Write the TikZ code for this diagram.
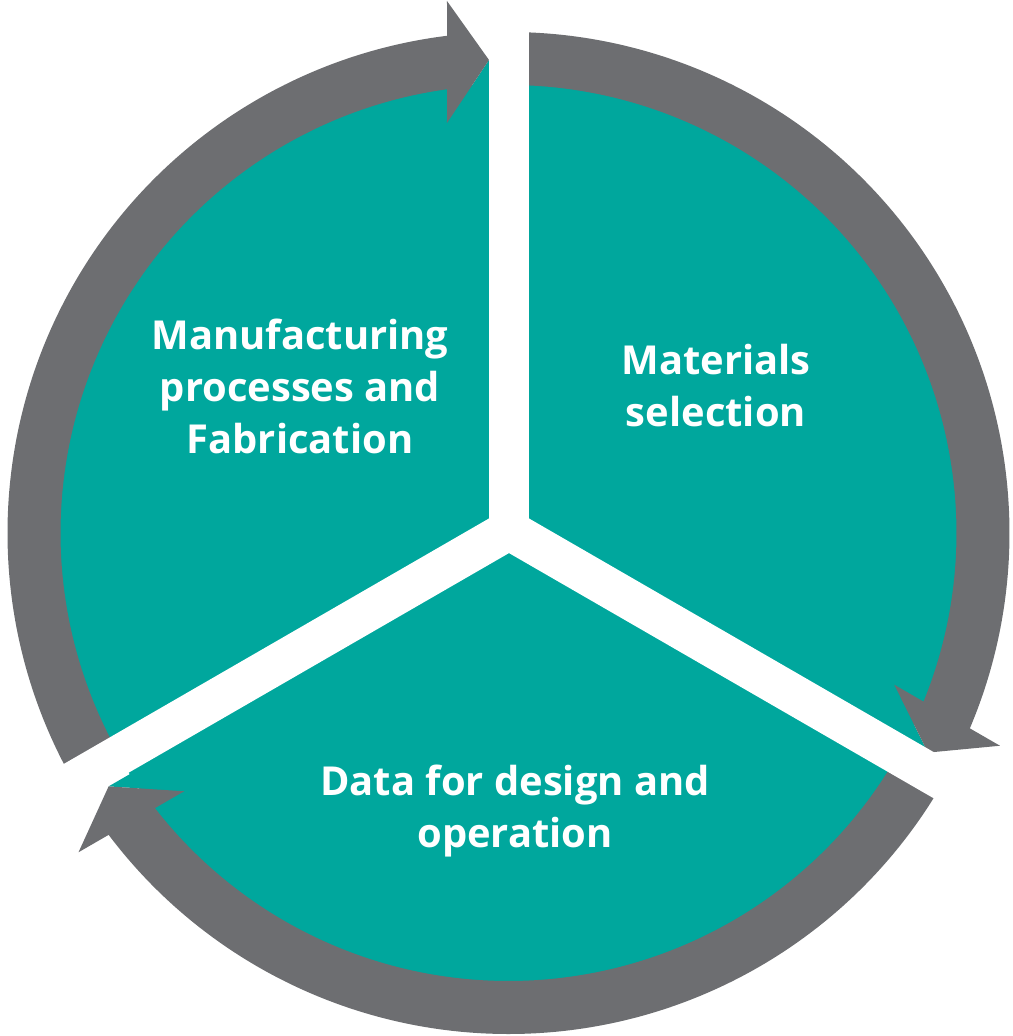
\documentclass[tikz,border=0pt]{standalone}
\usepackage{fontspec}
\setmainfont{Open Sans}
\usepackage{tikz}
\definecolor{sector}{RGB}{0,167,157}
\definecolor{ring}{RGB}{109,110,113}

\begin{document}
\begin{tikzpicture}[x=0.2mm,y=0.2mm,
stagetext/.style={text=white,font=\bfseries\fontsize{22.7}{29.6}\selectfont,align=center,inner sep=0pt},
gapline/.style={draw=white,line width=8mm},
cyclearrow/.style={fill=ring}]
\useasboundingbox (-508.5,-503) rectangle (504.5,533);
\fill[sector] (0,0) circle[radius=449];
% one arrow per stage, turned round the wheel
\foreach \turn in {0,-120,-240}{
  \fill[sector,rotate=\turn] (-19.5,473) -- (-61.5,410) -- (-19.5,410) -- cycle;
  \fill[cyclearrow,rotate=\turn] (210:501) arc[start angle=210,end angle=97.05,radius=501]
    -- (-61.5,532) -- (-19.5,473) -- (-61.5,410) -- (97.89:448)
    arc[start angle=97.89,end angle=210,radius=448] -- cycle;
}
\coordinate (hub) at (0.5,3);
\foreach \dir in {90,210,330}
  \draw[gapline] (hub) -- ++(\dir:560);
\node[stagetext] (making) at (-208.5,147) {Manufacturing\\processes and\\Fabrication};
\node[stagetext] (materials) at (207.5,147) {Materials\\selection};
\node[stagetext] (data) at (6.5,-278) {Data for design and\\operation};
\end{tikzpicture}
\end{document}
